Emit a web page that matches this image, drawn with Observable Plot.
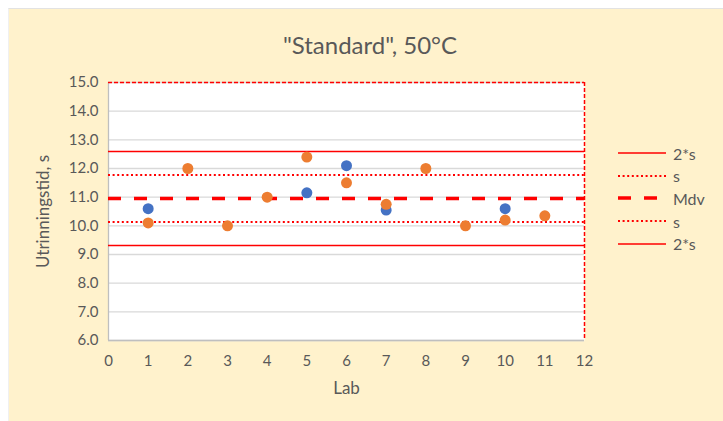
<!DOCTYPE html>
<html>
<head>
<meta charset="utf-8">
<script src="https://cdn.jsdelivr.net/npm/d3@7"></script>
<script src="https://cdn.jsdelivr.net/npm/@observablehq/plot@0.6"></script>
<style>
  body { margin: 0; background: #fff; font-family: Lato, "Open Sans", sans-serif; }
  #wrap { position: relative; width: 723px; height: 421px; overflow: hidden; }
  #bg { position: absolute; left: 8px; top: 8px; right: 0; bottom: 0; background: #FFF2CC; border-top: 1px solid #e2e2e2; border-left: 1px solid #f0f0f0; }
  #title { position: absolute; left: 0; width: 740px; top: 30px; text-align: center; font-size: 24px; line-height: 29px; color: #595959; }
  #chart { position: absolute; left: 0; top: 0; }
  #legend { position: absolute; left: 617px; top: 142px; font-size: 16px; color: #595959; }
  .row { height: 22.6px; display: flex; align-items: center; }
  .row svg { margin-right: 6px; }
</style>
</head>
<body>
<div id="wrap">
  <div id="bg"></div>
  <div id="title">"Standard", 50°C</div>
  <div id="chart"></div>
  <div id="legend"></div>
</div>
<script>
// Data
const labs = [1, 2, 3, 4, 5, 6, 7, 8, 9, 10, 11];
const seriesB = [10.1, 12.0, 10.0, 11.0, 12.4, 11.5, 10.75, 12.0, 10.0, 10.2, 10.35]; // orange
const labsA = [1, 5, 6, 7, 10];
const seriesA = [10.6, 11.15, 12.1, 10.55, 10.6]; // blue
const mdv = 10.95;
const s = 0.82;
const xTicks = [0, 1, 2, 3, 4, 5, 6, 7, 8, 9, 10, 11, 12];
const yTicks = [6, 7, 8, 9, 10, 11, 12, 13, 14, 15];
const legendItems = [
  {label: "2*s", dash: null, w: 1.5},
  {label: "s", dash: "2,2.6", w: 2},
  {label: "Mdv", dash: "13,13", w: 3.5},
  {label: "s", dash: "2,2.6", w: 2},
  {label: "2*s", dash: null, w: 1.5}
];

const ptsA = labsA.map((x, i) => ({x, y: seriesA[i]}));
const ptsB = labs.map((x, i) => ({x, y: seriesB[i]}));
const red = "#FF0000";

const chart = Plot.plot({
  width: 723,
  height: 421,
  marginLeft: 108,
  marginRight: 139,
  marginTop: 82,
  marginBottom: 81,
  style: {background: "transparent", color: "#595959", fontSize: "15px", fontFamily: "Lato, 'Open Sans', sans-serif"},
  x: {domain: [0, 12], label: null},
  y: {domain: [6, 15], label: null},
  marks: [
    Plot.frame({fill: "white", stroke: "none"}),
    Plot.gridY(yTicks, {stroke: "#d9d9d9", strokeOpacity: 1, strokeWidth: 1.3}),
    Plot.axisX({ticks: xTicks, tickSize: 0, tickPadding: 15, label: null, fontSize: 15}),
    Plot.axisY({ticks: yTicks, tickSize: 0, tickPadding: 10, tickFormat: d3.format(".1f"), label: null, fontSize: 15}),
    Plot.ruleX([0], {stroke: "#bfbfbf", strokeWidth: 1.3}),
    Plot.ruleY([6], {stroke: "#bfbfbf", strokeWidth: 1.3}),
    Plot.ruleY([15], {stroke: red, strokeWidth: 1.5, strokeDasharray: "4,2"}),
    Plot.ruleX([12], {stroke: red, strokeWidth: 1.5, strokeDasharray: "4,2"}),
    Plot.ruleY([mdv + 2 * s, mdv - 2 * s], {stroke: red, strokeWidth: 1.5}),
    Plot.ruleY([mdv + s, mdv - s], {stroke: red, strokeWidth: 2, strokeDasharray: "2,2.6"}),
    Plot.ruleY([mdv], {stroke: red, strokeWidth: 3.5, strokeDasharray: "13,13"}),
    Plot.dot(ptsA, {x: "x", y: "y", r: 5.5, fill: "#4472C4", stroke: "none"}),
    Plot.dot(ptsB, {x: "x", y: "y", r: 5.5, fill: "#ED7D31", stroke: "none"}),
    Plot.text(["Lab"], {frameAnchor: "bottom", dy: 53, fontSize: 17, fill: "#595959"}),
    Plot.text(["Utrinningstid, s"], {frameAnchor: "left", textAnchor: "middle", dx: -65, rotate: -90, fontSize: 17, fill: "#595959"})
  ]
});
document.getElementById("chart").appendChild(chart);

const leg = document.getElementById("legend");
legendItems.forEach(it => {
  const row = document.createElement("div");
  row.className = "row";
  row.innerHTML = `<svg width="50" height="8"><line x1="1" y1="4" x2="49" y2="4" stroke="${red}" stroke-width="${it.w}" ${it.dash ? `stroke-dasharray="${it.dash}"` : ""}/></svg><span>${it.label}</span>`;
  leg.appendChild(row);
});
</script>
</body>
</html>
